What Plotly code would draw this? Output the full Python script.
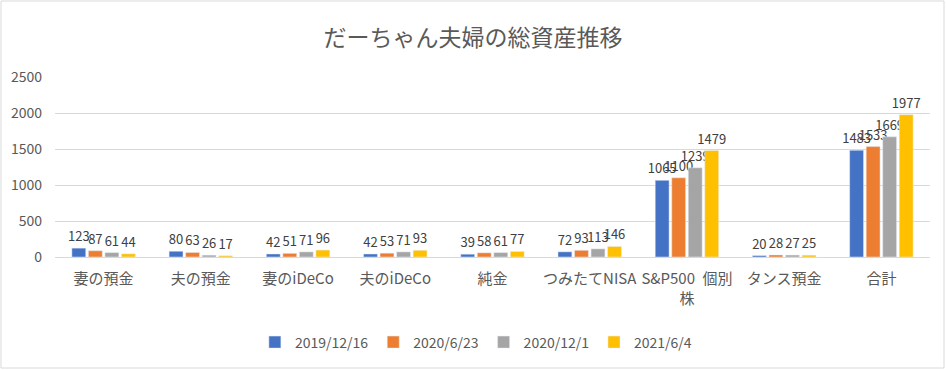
import plotly.graph_objects as go

categories = ["妻の預金", "夫の預金", "妻のiDeCo", "夫のiDeCo", "純金", "つみたてNISA",
              "S&P500\u2002個別<br>株", "タンス預金", "合計"]
series_names = ["2019/12/16", "2020/6/23", "2020/12/1", "2021/6/4"]
v_2019_12_16 = [123, 80, 42, 42, 39, 72, 1065, 20, 1483]
v_2020_06_23 = [87, 63, 51, 53, 58, 93, 1100, 28, 1533]
v_2020_12_01 = [61, 26, 71, 71, 61, 113, 1239, 27, 1669]
v_2021_06_04 = [44, 17, 96, 93, 77, 146, 1479, 25, 1977]
colors = ["#4472C4", "#ED7D31", "#A5A5A5", "#FFC000"]
y_ticks = [0, 500, 1000, 1500, 2000, 2500]

FONT = "Noto Sans CJK JP"
TXT = "#595959"

fig = go.Figure()
for name, vals, c in zip(series_names,
                         [v_2019_12_16, v_2020_06_23, v_2020_12_01, v_2021_06_04],
                         colors):
    fig.add_trace(go.Bar(
        x=categories, y=vals, name=name, marker_color=c,
        text=[str(v) for v in vals], textposition="outside",
        constraintext="none", cliponaxis=False,
        textfont=dict(family=FONT, size=13, color="#404040"),
    ))

fig.update_layout(
    width=946, height=370,
    margin=dict(l=55, r=16, t=77, b=113),
    paper_bgcolor="white", plot_bgcolor="white",
    font=dict(family=FONT, color=TXT),
    barmode="group", bargap=0.32, bargroupgap=0.16,
    title=dict(text="だーちゃん夫婦の総資産推移", x=0.5, xanchor="center",
               y=1 - 38 / 370, yanchor="middle",
               font=dict(family=FONT, size=23, color=TXT)),
    legend=dict(orientation="h", x=0.481, xanchor="center", y=-0.475, yanchor="middle",
                itemwidth=30, tracegroupgap=0,
                font=dict(family=FONT, size=14, color=TXT)),
    showlegend=True,
)
fig.update_xaxes(showline=True, linecolor="#d9d9d9", linewidth=1, ticks="",
                 ticklabelstandoff=8, tickangle=0,
                 tickfont=dict(family=FONT, size=15, color=TXT))
fig.update_yaxes(range=[0, 2500], tickvals=y_ticks, showgrid=True, gridcolor="#d9d9d9",
                 zeroline=False, showline=False, ticks="", ticklabelstandoff=12,
                 tickfont=dict(family=FONT, size=14, color=TXT))

fig.add_shape(type="rect", xref="paper", yref="paper",
              x0=(1 - 55) / 875, x1=(944 - 55) / 875,
              y0=(257 - 368) / 180, y1=(257 - 1) / 180,
              line=dict(color="#d9d9d9", width=1), fillcolor="rgba(0,0,0,0)", layer="below")

fig.write_html("out.html", config={"displayModeBar": False},
               post_script="document.body.style.margin='0';")
